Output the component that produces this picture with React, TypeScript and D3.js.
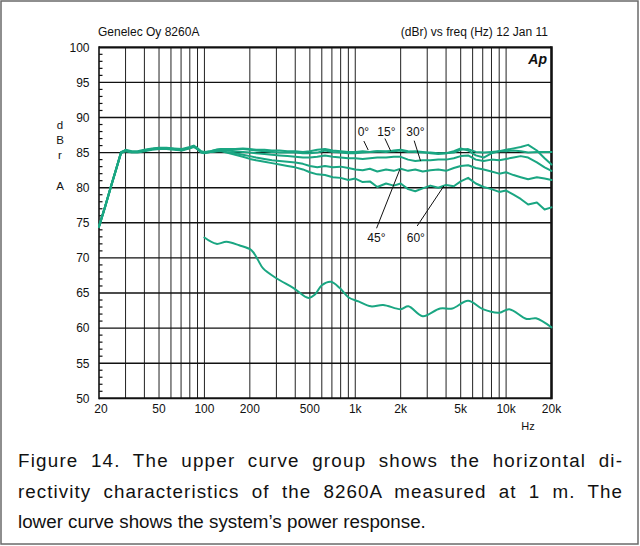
import React, { useLayoutEffect, useRef } from "react";
import * as d3 from "d3";

// ---------- data ----------
const dirFreqs = [20, 22, 24, 26, 28, 30, 33, 36, 40, 45, 50, 56, 63, 71, 80, 85, 90, 95, 100, 110, 120, 130,
  140, 160, 180, 200, 220, 250, 280, 315, 355, 400, 450, 500, 560, 630, 710, 800, 900, 1000, 1120, 1250, 1400,
  1600, 1800, 2000, 2240, 2500, 2800, 3150, 3550, 4000, 4500, 5000, 5600, 6300, 7100, 8000, 9000, 10000, 11200,
  12500, 14000, 16000, 18000, 20000];

const deg0 = [74.5, 77.4, 80.2, 82.7, 85.0, 85.4, 85.2, 85.2, 85.4, 85.6, 85.7, 85.7, 85.6, 85.5, 85.8, 86.0, 85.6, 85.2, 85.1, 85.2, 85.4, 85.5,
  85.5, 85.5, 85.6, 85.5, 85.4, 85.4, 85.3, 85.3, 85.2, 85.2, 85.1, 85.2, 85.4, 85.5, 85.3, 85.2, 85.1, 85.1, 85.2, 85.1, 85.2, 85.1, 85.3, 85.4, 85.2, 85.1, 85.0, 85.0, 84.9, 84.9, 85.0, 85.4, 85.5, 85.1, 85.0, 85.1, 85.2, 85.2, 85.3, 85.2, 85.0, 85.1, 85.1, 85.1];
const deg15 = [74.4, 77.3, 80.1, 82.6, 85.0, 85.3, 85.1, 85.1, 85.3, 85.5, 85.6, 85.6, 85.5, 85.4, 85.7, 85.9, 85.5, 85.1, 85.0, 85.2, 85.4, 85.5,
  85.4, 85.5, 85.5, 85.4, 85.3, 85.2, 85.1, 85.0, 85.0, 85.0, 84.9, 84.9, 85.0, 85.3, 85.1, 85.0, 84.9, 84.9, 85.0, 85.1, 85.2, 85.2, 85.2, 85.3, 85.1, 85.2, 85.1, 84.9, 84.8, 84.9, 85.2, 85.6, 85.3, 84.6, 84.3, 84.9, 85.2, 85.4, 85.6, 85.8, 86.1, 85.3, 84.2, 83.3];
const deg30 = [74.5, 77.4, 80.2, 82.7, 85.1, 85.3, 85.1, 85.1, 85.3, 85.5, 85.6, 85.6, 85.5, 85.4, 85.7, 85.9, 85.6, 85.1, 85.0, 85.1, 85.3, 85.4,
  85.3, 85.2, 85.1, 85.0, 84.9, 84.8, 84.7, 84.6, 84.5, 84.4, 84.3, 84.3, 84.4, 84.6, 84.4, 84.3, 84.2, 84.2, 84.1, 84.2, 84.3, 84.3, 84.4, 84.4, 84.0, 83.8, 83.9, 83.9, 84.0, 84.0, 84.2, 84.5, 84.6, 84.0, 83.8, 84.0, 83.9, 84.1, 84.3, 84.5, 84.3, 83.6, 82.9, 82.4];
const deg45 = [74.4, 77.3, 80.1, 82.6, 84.9, 85.2, 85.0, 85.0, 85.2, 85.4, 85.5, 85.5, 85.4, 85.3, 85.6, 85.8, 85.5, 85.0, 84.9, 85.1, 85.2, 85.3,
  85.1, 84.9, 84.7, 84.5, 84.3, 84.1, 83.9, 83.8, 83.7, 83.6, 83.4, 83.1, 82.9, 83.1, 82.9, 83.0, 82.8, 82.6, 82.5, 82.7, 82.3, 82.6, 82.4, 82.7, 82.4, 82.6, 82.3, 82.5, 82.6, 82.4, 82.8, 83.1, 83.2, 82.8, 82.6, 82.3, 82.0, 82.2, 81.8, 81.5, 81.2, 81.5, 81.3, 81.1];
const deg60 = [74.5, 77.4, 80.2, 82.7, 85.0, 85.3, 85.1, 85.1, 85.3, 85.5, 85.6, 85.6, 85.5, 85.4, 85.7, 85.9, 85.5, 85.1, 85.0, 85.1, 85.2, 85.2,
  85.0, 84.7, 84.4, 84.1, 83.9, 83.7, 83.5, 83.3, 83.1, 82.9, 82.6, 82.2, 81.9, 81.8, 81.5, 81.4, 81.1, 81.3, 80.8, 80.9, 80.1, 80.6, 80.3, 80.6, 79.8, 79.5, 79.9, 80.3, 80.0, 80.4, 80.2, 80.9, 81.4, 80.6, 80.1, 79.8, 79.4, 79.6, 79.0, 78.4, 77.6, 77.9, 76.9, 77.2];

const powerFreqs = [100, 120, 140, 170, 205, 225, 245, 300, 390, 490, 540, 600, 690, 790, 900, 1050, 1270, 1530, 2000, 2250, 2800, 3650, 4400, 5600, 7000, 9000, 10500, 13700, 15800, 20000];
const powerResp = [72.9, 72.0, 72.3, 71.8, 71.1, 69.8, 68.5, 67.1, 65.7, 64.3, 64.8, 66.1, 66.6, 65.7, 64.4, 63.8, 63.1, 63.3, 62.7, 63.1, 61.7, 62.8, 62.8, 63.9, 62.7, 62.2, 62.7, 61.3, 61.4, 60.1];

const xTickValues = [20, 50, 100, 200, 500, 1000, 2000, 5000, 10000, 20000];
const xTickLabels = ["20", "50", "100", "200", "500", "1k", "2k", "5k", "10k", "20k"];
const yTickValues = [50, 55, 60, 65, 70, 75, 80, 85, 90, 95, 100];

const annoLabels = ["0°", "15°", "30°", "45°", "60°"];
const annoTextF = [1132, 1608, 2504, 1380, 2522];
const annoTextDb = [87.36, 87.36, 87.36, 72.26, 72.26];
const annoFromF = [1140, 1572, 2458, 1384, 2573];
const annoFromDb = [86.65, 87.01, 86.70, 74.22, 74.54];
const annoToF = [1218, 1714, 2710, 1976, 3868];
const annoToDb = [85.37, 85.27, 83.80, 82.62, 80.24];

const captionLines = [
  "Figure 14. The upper curve group shows the horizontal di-",
  "rectivity characteristics of the 8260A measured at 1 m. The",
  "lower curve shows the system’s power response.",
];
const captionJustify = [true, true, false];

// ---------- layout ----------
const W = 640, H = 546;
const X0 = 99, X1 = 551.5, Y0 = 47.3, Y1 = 398.3;
const FONT = "'Liberation Sans', Arial, Helvetica, sans-serif";
const GREEN = "#1aa682";
const CAP_X = 18, CAP_W = 604, CAP_FS = 18.8;

export default function App() {
  const capRefs = useRef<(SVGTextElement | null)[]>([]);

  useLayoutEffect(() => {
    capRefs.current.forEach((el, i) => {
      if (!el || !captionJustify[i]) return;
      el.setAttribute("word-spacing", "0");
      el.setAttribute("letter-spacing", "0");
      const natural = el.getComputedTextLength();
      const txt = captionLines[i];
      const spaces = (txt.match(/ /g) || []).length;
      const extra = CAP_W - natural;
      if (extra <= 0) return;
      const ws = Math.min(6, (extra * 0.5) / Math.max(spaces, 1));
      const ls = (extra - ws * spaces) / (txt.length - 1);
      el.setAttribute("word-spacing", String(ws));
      el.setAttribute("letter-spacing", String(ls));
    });
  }, []);

  const x = d3.scaleLog().domain([20, 20000]).range([X0, X1]);
  const y = d3.scaleLinear().domain([50, 100]).range([Y1, Y0]);

  const gridFreqs: number[] = [];
  for (let dec = 10; dec <= 10000; dec *= 10) {
    for (let m = 1; m <= 9; m++) {
      const f = m * dec;
      if (f > 20 && f < 20000) gridFreqs.push(f);
    }
  }
  const minorDb = d3.range(51, 100).filter((v) => v % 5 !== 0);

  const line = d3.line<[number, number]>().x((d) => x(d[0])).y((d) => y(d[1])).curve(d3.curveLinear);
  const smooth = d3.line<[number, number]>().x((d) => x(d[0])).y((d) => y(d[1])).curve(d3.curveCatmullRom.alpha(0.5));

  const dirSeries = [deg60, deg45, deg30, deg15, deg0];

  return (
    <svg width={W} height={H} style={{ position: "absolute", left: 0, top: 0, background: "#fff" }} fontFamily={FONT}>
      <rect x={1} y={1} width={637} height={543} fill="#fff" stroke="#6a6a6a" strokeWidth={1.5} />

      {/* header */}
      <text x={98} y={36} fontSize={12} fill="#111">Genelec Oy 8260A</text>
      <text x={548} y={36} fontSize={12} fill="#111" textAnchor="end">(dBr) vs freq (Hz) 12 Jan 11</text>

      {/* vertical grid */}
      {gridFreqs.map((f) => (
        <line key={"vg" + f} x1={x(f)} x2={x(f)} y1={Y0} y2={Y1} stroke="#222" strokeWidth={1} />
      ))}
      {/* horizontal grid */}
      {yTickValues.filter((v) => v > 50 && v < 100).map((v) => (
        <line key={"hg" + v} x1={X0} x2={X1} y1={y(v)} y2={y(v)} stroke="#111" strokeWidth={1.4} />
      ))}
      {/* minor ticks */}
      {minorDb.map((v) => (
        <line key={"mt" + v} x1={X0} x2={X0 + 3.5} y1={y(v)} y2={y(v)} stroke="#111" strokeWidth={1.2} />
      ))}
      {/* frame */}
      <line x1={X0} x2={X1} y1={Y0} y2={Y0} stroke="#111" strokeWidth={2.2} />
      <line x1={X0} x2={X1} y1={Y1} y2={Y1} stroke="#111" strokeWidth={2} />
      <line x1={X0} x2={X0} y1={Y0 - 1} y2={Y1 + 1} stroke="#111" strokeWidth={1.6} />
      <line x1={X1} x2={X1} y1={Y0 - 1} y2={Y1 + 1} stroke="#111" strokeWidth={2.6} />

      {/* Ap logo */}
      <text x={547} y={64} fontSize={14} fontWeight="bold" fontStyle="italic" textAnchor="end" fill="#111">Ap</text>

      {/* y tick labels */}
      {yTickValues.map((v) => (
        <text key={"yl" + v} x={89.5} y={y(v)} dy="0.36em" fontSize={12} textAnchor="end" fill="#111">{v}</text>
      ))}
      {/* y axis label */}
      {["d", "B", "r"].map((c, i) => (
        <text key={"ya" + i} x={60} y={129 + i * 15} fontSize={11.5} textAnchor="middle" fill="#111">{c}</text>
      ))}
      <text x={60} y={189.5} fontSize={11.5} textAnchor="middle" fill="#111">A</text>

      {/* x tick labels */}
      {xTickValues.map((v, i) => (
        <text key={"xl" + v} x={x(v) + (i === 0 ? 2 : 0)} y={413} fontSize={12} textAnchor="middle" fill="#111">{xTickLabels[i]}</text>
      ))}
      <text x={528} y={430} fontSize={11} textAnchor="middle" fill="#111">Hz</text>

      {/* curves */}
      <g fill="none" stroke={GREEN} strokeWidth={2} strokeLinejoin="round" strokeLinecap="round">
        {dirSeries.map((vals, k) => (
          <path key={"dir" + k} d={line(dirFreqs.map((f, i) => [f, vals[i]] as [number, number])) || ""} />
        ))}
        <path d={smooth(powerFreqs.map((f, i) => [f, powerResp[i]] as [number, number])) || ""} />
      </g>

      {/* annotations */}
      {annoLabels.map((lab, i) => (
        <g key={"an" + i}>
          <line x1={x(annoFromF[i])} y1={y(annoFromDb[i])} x2={x(annoToF[i])} y2={y(annoToDb[i])} stroke="#111" strokeWidth={1} />
          <text x={x(annoTextF[i])} y={y(annoTextDb[i])} fontSize={12} textAnchor="middle" fill="#111">{lab}</text>
        </g>
      ))}

      {/* caption */}
      {captionLines.map((t, i) => (
        <text
          key={"cap" + i}
          ref={(el) => { capRefs.current[i] = el; }}
          x={CAP_X}
          y={467 + i * 30.5}
          fontSize={CAP_FS}
          fill="#111"
        >{t}</text>
      ))}
    </svg>
  );
}
